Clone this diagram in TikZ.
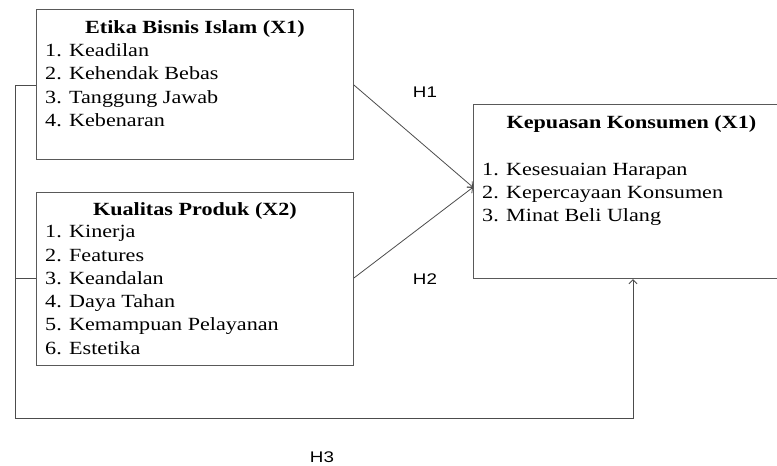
\documentclass[tikz,border=0pt]{standalone}
\usepackage{fontspec}
\setmainfont{Liberation Serif}[FakeStretch=1.19]
\newfontfamily\hlabfont{Liberation Sans}[FakeStretch=1.22]
\usepackage{tikz}
\usetikzlibrary{arrows.meta,positioning,calc}
\tikzset{
  varbox/.style = {rectangle, draw=black!65, line width=0.9pt, inner sep=0pt,
                   anchor=north west},
  ttl/.style    = {anchor=base, inner sep=0pt, font=\fontsize{18.6}{23.3}\selectfont\bfseries},
  lst/.style    = {anchor=base west, inner sep=0pt, align=left,
                   font=\fontsize{18.6}{23.3}\selectfont},
  hlab/.style   = {inner sep=0pt, font=\hlabfont\fontsize{15.4}{18}\selectfont},
  ln/.style     = {draw=black!70, line width=0.8pt},
  arr/.style    = {draw=black!70, line width=0.8pt, -{Straight Barb[length=4pt,width=8pt]}},
}
\begin{document}
\begin{tikzpicture}[x=1pt,y=1pt]
  \clip (0,0) rectangle (777,-466);
  \node[varbox, minimum width=317, minimum height=150] (x1) at (36,-9.3) {};
  \node[varbox, minimum width=317, minimum height=173] (x2) at (36,-191.7) {};
  \node[varbox, minimum width=316, minimum height=174] (yb) at (473,-104.3) {};
  \node[ttl] (x1t) at ($(x1.north)+(0,-23.7)$) {Etika Bisnis Islam (X1)};
  \node[lst] (x1l) at ($(x1.north west)+(9,-117.1)$) {1. Keadilan\\ 2. Kehendak Bebas\\ 3. Tanggung Jawab\\ 4. Kebenaran};
  \node[ttl] (x2t) at ($(x2.north)+(0,-23.3)$) {Kualitas Produk (X2)};
  \node[lst] (x2l) at ($(x2.north west)+(9,-162.5)$) {1. Kinerja\\ 2. Features\\ 3. Keandalan\\ 4. Daya Tahan\\ 5. Kemampuan Pelayanan\\ 6. Estetika};
  \node[ttl] (yt) at ($(yb.north)+(0,-24)$) {Kepuasan Konsumen (X1)};
  \node[lst] (yl) at ($(yb.north west)+(9,-117.3)$) {1. Kesesuaian Harapan\\ 2. Kepercayaan Konsumen\\ 3. Minat Beli Ulang};
  \coordinate (busT) at (15,-85);
  \coordinate (busM) at (15,-278);
  \coordinate (busB) at (15,-418);
  \coordinate (yin) at ($(yb.north west)+(0,-83)$);
  \coordinate (h3in) at ($(yb.south west)+(160,0)$);
  \draw[arr] (x1.west |- busT) -| (busB) -| (h3in);
  \draw[ln] (busM) -- (x2.west |- busM);
  \draw[arr] (x1.east |- busT) -- (yin);
  \draw[arr] (x2.east |- busM) -- (yin);
  \node[hlab] (h1) at (425,-92) {H1};
  \node[hlab] (h2) at (425,-279) {H2};
  \node[hlab] (h3) at (322,-457) {H3};
\end{tikzpicture}
\end{document}
